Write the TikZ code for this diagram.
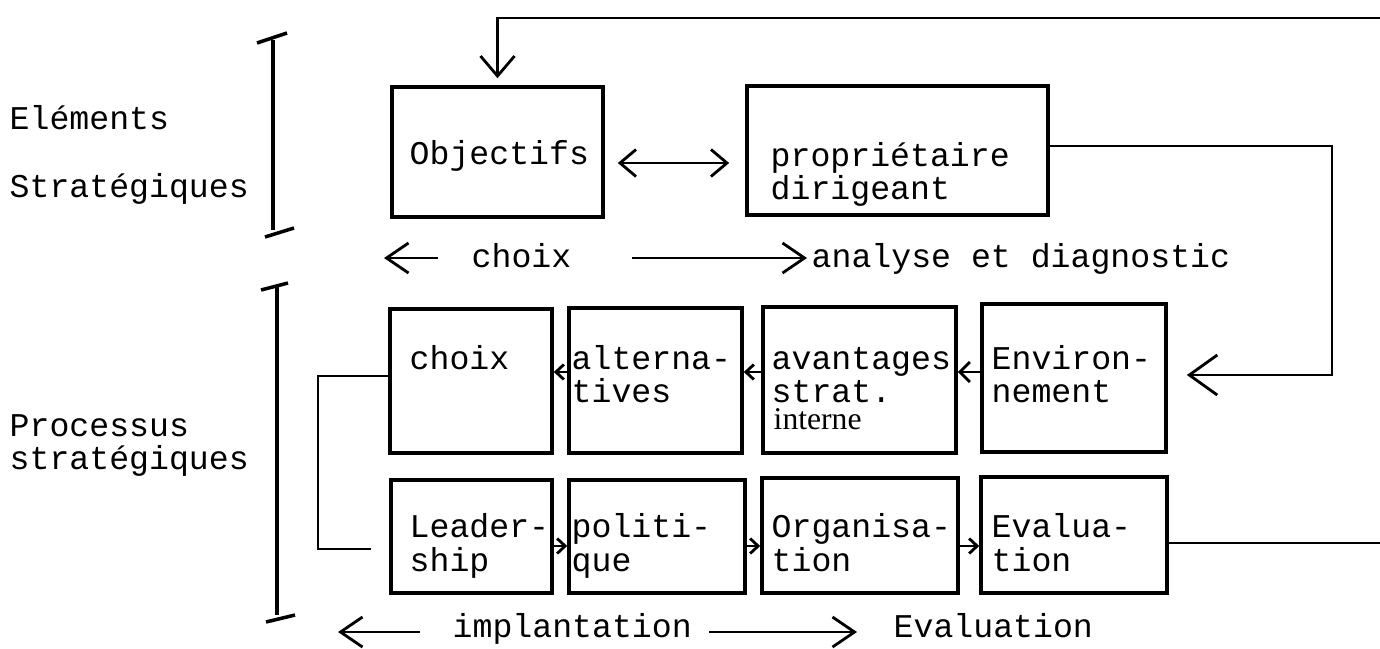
\documentclass[tikz,border=0pt]{standalone}
\usepackage{fontspec}
\newfontfamily\twfont{Liberation Mono}
\newfontfamily\trfont{Liberation Serif}
\usetikzlibrary{arrows.meta}
\begin{document}
\begin{tikzpicture}[x=0.01cm,y=-0.01cm,
  box/.style={draw, line width=1pt, inner sep=0pt},
  txt/.style={anchor=base west, inner sep=0pt, font=\twfont\fontsize{9.44pt}{9.44pt}\selectfont},
  smalltxt/.style={anchor=base west, inner sep=0pt, font=\trfont\fontsize{9pt}{9pt}\selectfont},
  conn/.style={line width=0.8pt},
  brace/.style={line width=1pt},
  bigtip/.style={-{Straight Barb[length=0.2cm,width=0.34cm]}},
  envtip/.style={-{Straight Barb[length=0.28cm,width=0.4cm]}},
  midtip/.style={-{Straight Barb[length=0.22cm,width=0.3cm]}},
  dbltip/.style={{Straight Barb[length=0.16cm,width=0.27cm]}-{Straight Barb[length=0.16cm,width=0.27cm]}},
  smalltip/.style={-{Straight Barb[length=0.08cm,width=0.15cm]}},
  envsmall/.style={-{Straight Barb[length=0.1cm,width=0.2cm]}}
]
\useasboundingbox (0,0) rectangle (1380,648);

% boxes
\node[box, minimum width=2.11cm, minimum height=1.30cm] (obj) at (497.5,152) {};
\node[box, minimum width=3.01cm, minimum height=1.29cm] (prop) at (897.5,150.5) {};
\node[box, minimum width=1.62cm, minimum height=1.44cm] (choix) at (471,381) {};
\node[box, minimum width=1.73cm, minimum height=1.45cm] (alt) at (655.5,380.5) {};
\node[box, minimum width=1.93cm, minimum height=1.46cm] (avan) at (859.5,380) {};
\node[box, minimum width=1.84cm, minimum height=1.48cm] (env) at (1074,378) {};
\node[box, minimum width=1.61cm, minimum height=1.13cm] (lead) at (471.5,536.5) {};
\node[box, minimum width=1.76cm, minimum height=1.13cm] (pol) at (657,536.5) {};
\node[box, minimum width=1.96cm, minimum height=1.15cm] (org) at (860,535.5) {};
\node[box, minimum width=1.86cm, minimum height=1.16cm] (evalb) at (1074,535) {};

% texts
\node[txt] (tEl) at (9,129) {Eléments};
\node[txt] (tSt) at (9,197) {Stratégiques};
\node[txt] (tPr) at (9,436) {Processus};
\node[txt] (tSt2) at (9,469) {stratégiques};
\node[txt] (tObj) at (409,164) {Objectifs};
\node[txt] (tProp1) at (770,166) {propriétaire};
\node[txt] (tProp2) at (770,199) {dirigeant};
\node[txt] (tChm) at (471,267) {choix};
\node[txt] (tAna) at (811,267) {analyse et diagnostic};
\node[txt] (tCh) at (409,369) {choix};
\node[txt] (tAl1) at (571,369) {alterna-};
\node[txt] (tAl2) at (571,402) {tives};
\node[txt] (tAv1) at (771,369) {avantages};
\node[txt] (tAv2) at (771,402) {strat.};
\node[smalltxt] (tAv3) at (773,429) {interne};
\node[txt] (tEn1) at (991,369) {Environ-};
\node[txt] (tEn2) at (991,402) {nement};
\node[txt] (tLe1) at (409,537) {Leader-};
\node[txt] (tLe2) at (409,571) {ship};
\node[txt] (tPo1) at (571,537) {politi-};
\node[txt] (tPo2) at (571,571) {que};
\node[txt] (tOr1) at (771,537) {Organisa-};
\node[txt] (tOr2) at (771,571) {tion};
\node[txt] (tEv1) at (991,537) {Evalua-};
\node[txt] (tEv2) at (991,571) {tion};
\node[txt] (tImp) at (452,637) {implantation};
\node[txt] (tEvb) at (893,637) {Evaluation};

% brackets
\draw[brace] (273,40) -- (273,230);
\draw[brace] (257,43) -- (287,33);
\draw[brace] (265,237) -- (294,228);
\draw[brace] (277,287) -- (277,615);
\draw[brace] (261,290) -- (288,283);
\draw[brace] (266,622) -- (295,615);

% helper coordinates
\coordinate (fbR) at (1380,18);
\coordinate (evR) at (1380,543);
\coordinate (dy) at (0,163);
\coordinate (pcy) at (0,146);
\coordinate (pe) at (1332,375);
\coordinate (r1) at (0,372);
\coordinate (r2) at (0,546);
\coordinate (lcy) at (0,376);
\coordinate (lcend) at (371,549);
\coordinate (mL1) at (438,258);
\coordinate (mL2) at (384,258);
\coordinate (mR1) at (632,258);
\coordinate (mR2) at (807,258);
\coordinate (bL1) at (420,632);
\coordinate (bL2) at (338,632);
\coordinate (bR1) at (709,632);
\coordinate (bR2) at (857,632);

% connectors
\draw[conn,bigtip,shorten >=0.07cm] (fbR) -| (obj.north);
\draw[conn,dbltip,shorten <=0.13cm,shorten >=0.16cm] (obj.east |- dy) -- (prop.west |- dy);
\draw[conn,envtip,shorten >=0.19cm] (prop.east |- pcy) -| (pe) -- (env.east |- pe);
\draw[conn] (evalb.east |- evR) -- (evR);
\draw[conn] (choix.west |- lcy) -| (318,549) -- (lcend);

\draw[conn,smalltip] (alt.west |- r1) -- (choix.east |- r1);
\draw[conn,smalltip] (avan.west |- r1) -- (alt.east |- r1);
\draw[conn,envsmall] (env.west |- r1) -- (avan.east |- r1);
\draw[conn,smalltip] (lead.east |- r2) -- (pol.west |- r2);
\draw[conn,smalltip] (pol.east |- r2) -- (org.west |- r2);
\draw[conn,smalltip] (org.east |- r2) -- (evalb.west |- r2);

\draw[conn,midtip] (mL1) -- (mL2);
\draw[conn,midtip] (mR1) -- (mR2);
\draw[conn,midtip] (bL1) -- (bL2);
\draw[conn,midtip] (bR1) -- (bR2);
\end{tikzpicture}
\end{document}
